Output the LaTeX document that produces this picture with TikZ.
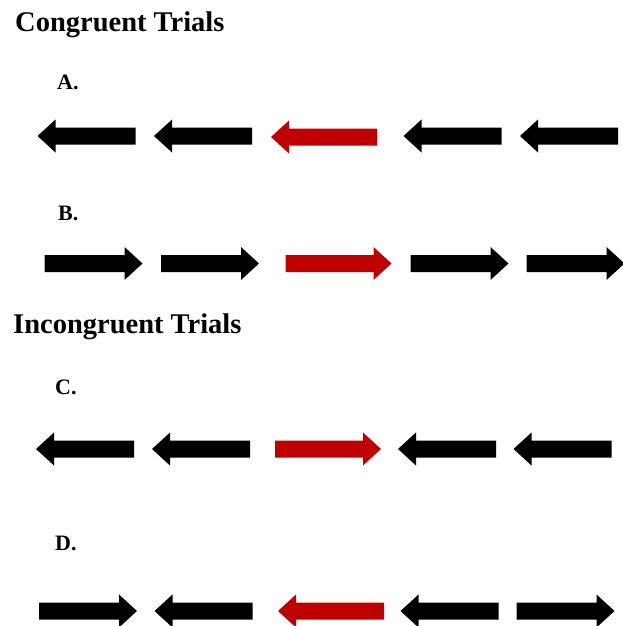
\documentclass[tikz,border=0pt]{standalone}
\usepackage{fontspec}
\setmainfont{Liberation Serif}
\usepackage{tikz}

\definecolor{targetred}{RGB}{192,0,0}

\begin{document}
\begin{tikzpicture}[x=1pt, y=-1pt,
    trialhead/.style={anchor=base west, inner sep=0pt, font=\bfseries\fontsize{28.5}{32}\selectfont},
    rowlbl/.style={anchor=base west, inner sep=0pt, font=\bfseries\fontsize{22}{26}\selectfont},
    lfacing/.style={xscale=-1},
    pics/flanker/.style={code={
        \fill[black] (-49,-8.5) -- (31,-8.5) -- (31,-16.5) -- (49,0)
            -- (31,16.5) -- (31,8.5) -- (-49,8.5) -- cycle;}},
    pics/target/.style={code={
        \fill[targetred] (-53,-8.5) -- (35,-8.5) -- (35,-16.5) -- (53,0)
            -- (35,16.5) -- (35,8.5) -- (-53,8.5) -- cycle;}}]
    \useasboundingbox (0,0) rectangle (622,626);

    % Congruent trials
    \node[trialhead] (cong) at (15,32) {Congruent Trials};

    % Row A
    \node[rowlbl] (lblA) at (57,89) {A.};
    \pic[lfacing] (a1) at (86.5,136) {flanker};
    \pic[lfacing] (a2) at (203,136) {flanker};
    \pic[lfacing] (a3) at (324,137) {target};
    \pic[lfacing] (a4) at (452.5,136) {flanker};
    \pic[lfacing] (a5) at (569,136) {flanker};

    % Row B
    \node[rowlbl] (lblB) at (58,220) {B.};
    \pic (b1) at (93.5,263.5) {flanker};
    \pic (b2) at (210,263.5) {flanker};
    \pic (b3) at (338.5,263.5) {target};
    \pic (b4) at (459.5,263.5) {flanker};
    \pic (b5) at (575.5,263.5) {flanker};

    % Incongruent trials
    \node[trialhead] (incong) at (13,333) {Incongruent Trials};

    % Row C
    \node[rowlbl] (lblC) at (55,394) {C.};
    \pic[lfacing] (c1) at (85,449) {flanker};
    \pic[lfacing] (c2) at (201,449) {flanker};
    \pic (c3) at (328,449) {target};
    \pic[lfacing] (c4) at (447,449) {flanker};
    \pic[lfacing] (c5) at (562.5,449) {flanker};

    % Row D
    \node[rowlbl] (lblD) at (55,550) {D.};
    \pic (d1) at (88,611) {flanker};
    \pic[lfacing] (d2) at (203.5,611) {flanker};
    \pic[lfacing] (d3) at (331,611) {target};
    \pic[lfacing] (d4) at (449.5,611) {flanker};
    \pic (d5) at (565.5,611) {flanker};
\end{tikzpicture}
\end{document}
